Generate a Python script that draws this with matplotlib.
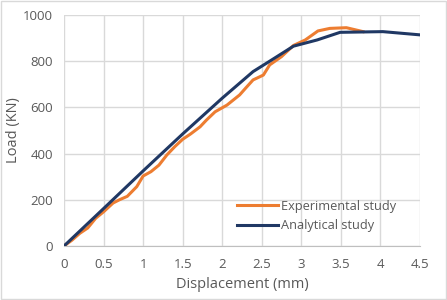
import matplotlib
matplotlib.use('Agg')
import matplotlib.pyplot as plt

# --- DATA
exp_disp = [0, 0.1, 0.2, 0.3, 0.4, 0.5, 0.62, 0.7, 0.8, 0.92, 1.0, 1.1, 1.2, 1.3, 1.4, 1.5,
            1.6, 1.72, 1.8, 1.91, 2.06, 2.22, 2.3, 2.39, 2.44, 2.52, 2.6, 2.75, 2.9, 3.05,
            3.21, 3.36, 3.57, 3.78]
exp_load = [0, 25, 55, 78, 120, 148, 186, 200, 215, 257, 303, 322, 350, 394, 430, 462,
            485, 516, 545, 581, 610, 654, 685, 719, 727, 740, 784, 820, 868, 892,
            931, 942, 945, 928]

ana_disp = [0, 0.5, 1.0, 1.5, 2.0, 2.39, 2.6, 2.9, 3.2, 3.49, 4.03, 4.5]
ana_load = [0, 162, 325, 485, 640, 755, 800, 865, 892, 925, 928, 914]

x_ticks = [0, 0.5, 1, 1.5, 2, 2.5, 3, 3.5, 4, 4.5]
x_labels = ['0', '0.5', '1', '1.5', '2', '2.5', '3', '3.5', '4', '4.5']
y_ticks = [0, 200, 400, 600, 800, 1000]

plt.rcParams['font.family'] = ['Open Sans', 'DejaVu Sans']

fig = plt.figure(figsize=(4.47, 3.0), dpi=100)
ax = fig.add_axes([64 / 447, 54 / 300, 356 / 447, 231 / 300])

ax.plot(exp_disp, exp_load, color='#ED7D31', lw=2.2, label='Experimental study', zorder=3)
ax.plot(ana_disp, ana_load, color='#203864', lw=2.2, label='Analytical study', zorder=4)

ax.set_xlim(0, 4.5)
ax.set_ylim(0, 1000)
ax.set_xticks(x_ticks)
ax.set_xticklabels(x_labels)
ax.set_yticks(y_ticks)
ax.grid(True, color='#d9d9d9', lw=1.0)
ax.set_axisbelow(True)
ax.tick_params(length=0, labelsize=9.5, colors='#595959')
ax.tick_params(axis='x', pad=9)
ax.tick_params(axis='y', pad=8)
for s in ['top', 'right', 'left']:
    ax.spines[s].set_visible(False)
ax.spines['bottom'].set_color('#bfbfbf')

ax.set_xlabel('Displacement (mm)', fontsize=10.5, color='#595959', labelpad=4)
ax.set_ylabel('Load (KN)', fontsize=10.5, color='#595959', labelpad=1)

ax.legend(loc='center left', bbox_to_anchor=(0.485, 0.13), frameon=False, fontsize=9.2,
          handlelength=3.2, handletextpad=0.25, labelcolor='#595959', borderpad=0,
          borderaxespad=0, labelspacing=0.5)

# light border around the chart area
fig.patches.append(plt.Rectangle((0.002, 0.003), 0.996, 0.994, transform=fig.transFigure,
                                 fill=False, edgecolor='#d9d9d9', lw=1.0))

plt.savefig('out.png', dpi=100)
plt.close()
